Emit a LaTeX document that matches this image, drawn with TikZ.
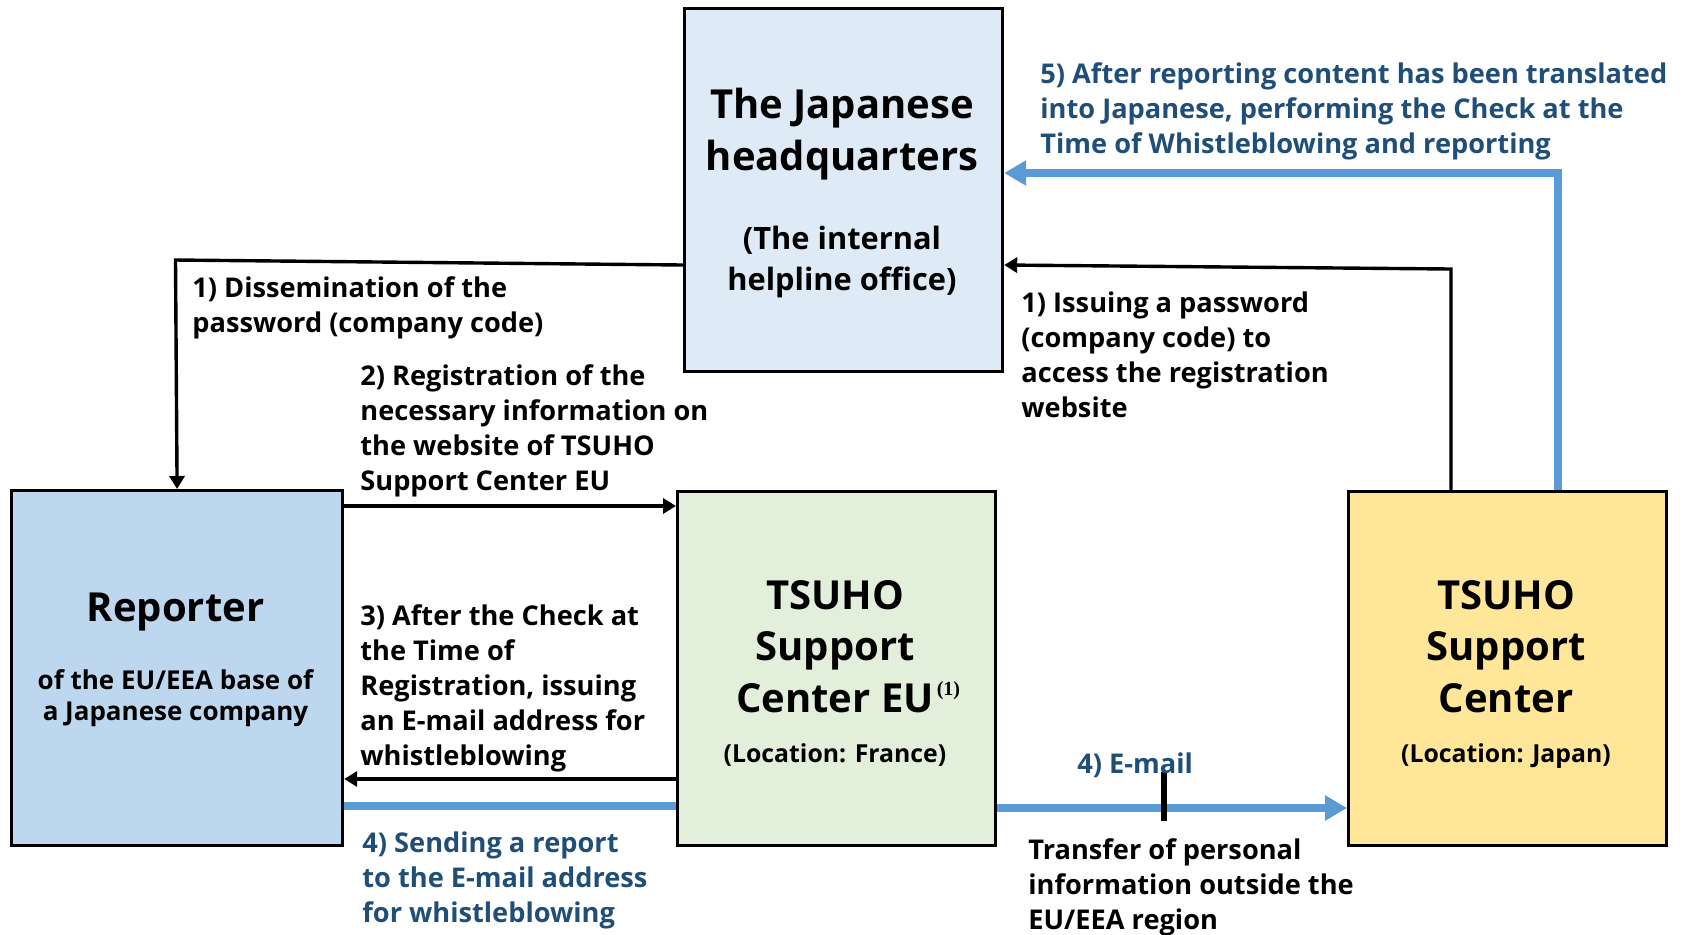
\documentclass[tikz,border=0pt]{standalone}
\usepackage{fontspec}
\setmainfont{Open Sans}
\newfontfamily\notefont{Liberation Serif}
\usetikzlibrary{arrows.meta}
\definecolor{hqblue}{HTML}{DEEBF7}
\definecolor{repblue}{HTML}{BDD7EE}
\definecolor{eugreen}{HTML}{E2EFDA}
\definecolor{jpyellow}{HTML}{FFE699}
\definecolor{linkblue}{HTML}{5B9BD5}
\definecolor{textblue}{HTML}{1F4E79}
\newcommand{\titlefont}{\fontsize{20}{25.75}\selectfont\bfseries}
\newcommand{\subfont}{\fontsize{15.4}{20.5}\selectfont\bfseries}
\newcommand{\basefont}{\fontsize{13}{15.5}\selectfont\bfseries}
\newcommand{\locfont}{\fontsize{12.4}{14}\selectfont\bfseries}
\newcommand{\stepfont}{\fontsize{13.6}{17.5}\selectfont\bfseries}
\begin{document}
\begin{tikzpicture}[x=0.5pt,y=-0.5pt,
  box/.style={draw,line width=1.6pt,anchor=north west,inner sep=0pt},
  boxtitle/.style={anchor=base,align=center,inner sep=0pt},
  steptext/.style={anchor=base west,align=left,inner sep=0pt,font=\stepfont},
  blk/.style={line width=1.7pt,-{Triangle[length=6.5pt,width=7.5pt]}},
  blu/.style={line width=3.8pt,linkblue,-{Triangle[length=11pt,width=12pt]}}]
\useasboundingbox (0,0) rectangle (1692,934);
% boxes
\node [box,fill=hqblue,minimum width=159pt,minimum height=181.5pt] (hq) at (683,7) {};
\node [box,fill=repblue,minimum width=165.5pt,minimum height=177.5pt] (rep) at (10,489) {};
\node [box,fill=eugreen,minimum width=159pt,minimum height=177pt] (eu) at (676,490) {};
\node [box,fill=jpyellow,minimum width=159pt,minimum height=177pt] (jp) at (1347,490) {};
% box texts (anchored on the last line)
\node [boxtitle,font=\titlefont] (hqname) at (842,170) {The Japanese\\headquarters};
\node [boxtitle,font=\subfont] (hqsub) at (842,290) {(The internal\\helpline office)};
\node [boxtitle,font=\titlefont] (repname) at (175.5,621) {Reporter};
\node [boxtitle,font=\basefont] (repsub) at (175.5,720) {of the EU/EEA base of\\a Japanese company};
\node [boxtitle,font=\titlefont] (euname) at (835,712) {TSUHO\\Support\\Center EU\rlap{\kern1.5pt\raisebox{8.5pt}{\notefont\fontsize{10}{10}\selectfont\bfseries(1)}}};
\node [boxtitle,font=\locfont] (euloc) at (835,762) {(Location: France)};
\node [boxtitle,font=\titlefont] (jpname) at (1506,712) {TSUHO\\Support\\Center};
\node [boxtitle,font=\locfont] (jploc) at (1506,762) {(Location: Japan)};
% connectors
\coordinate (d0) at (0,265);
\coordinate (d1) at (175.5,260);
\coordinate (r2) at (0,506);
\coordinate (r3) at (0,779);
\coordinate (r4) at (0,806);
\coordinate (r5) at (0,808);
\coordinate (k0) at (0,265);
\coordinate (k1) at (1451,269);
\coordinate (k5) at (1558,173);
\draw [blk] (hq.west |- d0) -- (d1) -- (rep.north);
\draw [blk] (rep.east |- r2) -- (eu.west |- r2);
\draw [blk] (eu.west |- r3) -- (rep.east |- r3);
\draw [blu,-] (rep.east |- r4) -- (eu.west |- r4);
\draw [blu] (eu.east |- r5) -- (jp.west |- r5);
\draw [blk] (jp.north -| k1) -- (k1) -- (hq.east |- k0);
\draw [blu] (jp.north -| k5) |- (hq.east |- k5);
\coordinate (t1) at (1164,772);
\coordinate (t2) at (1164,821);
\draw [line width=3pt] (t1) -- (t2);
% step labels (anchored on the last line)
\node [steptext] (s1a) at (192,332) {1) Dissemination of the\\password (company code)};
\node [steptext] (s2) at (360,490) {2) Registration of the\\necessary information on\\the website of TSUHO\\Support Center EU};
\node [steptext] (s3) at (360,765) {3) After the Check at\\the Time of\\Registration, issuing\\an E-mail address for\\whistleblowing};
\node [steptext,textblue] (s4) at (362,922) {4) Sending a report\\to the E-mail address\\for whistleblowing};
\node [steptext] (s1b) at (1021,417) {1) Issuing a password\\(company code) to\\access the registration\\website};
\node [steptext,textblue] (s5) at (1040,153) {5) After reporting content has been translated\\into Japanese, performing the Check at the\\Time of Whistleblowing and reporting};
\node [steptext,textblue] (mail) at (1077,773) {4) E-mail};
\node [steptext] (transfer) at (1028,929) {Transfer of personal\\information outside the\\EU/EEA region};
\end{tikzpicture}
\end{document}
